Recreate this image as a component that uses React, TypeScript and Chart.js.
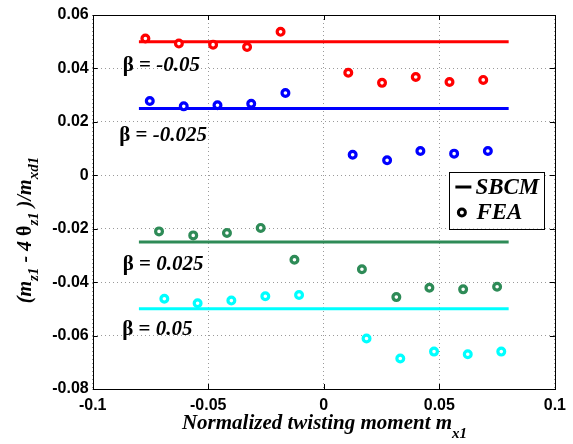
import { useEffect, useRef } from "react";
import { Chart, registerables } from "chart.js";
Chart.register(...registerables);

const xTickValues = [-0.1, -0.05, 0, 0.05, 0.1];
const xTickLabels = ["-0.1", "-0.05", "0", "0.05", "0.1"];
const yTickValues = [-0.08, -0.06, -0.04, -0.02, 0, 0.02, 0.04, 0.06];
const yTickLabels = ["-0.08", "-0.06", "-0.04", "-0.02", "0", "0.02", "0.04", "0.06"];

const betaLabels = ["-0.05", "-0.025", "0.025", "0.05"];
const seriesColors = ["#ff0000", "#0000ff", "#2e8b57", "#00ffff"];

const sbcmX = [-0.08, 0.08];
const sbcmLevels = [0.05, 0.025, -0.025, -0.05];

const feaXBetaM005 = [-0.0772, -0.0627, -0.0479, -0.0332, -0.0187, 0.0106, 0.0252, 0.0398, 0.0544, 0.069];
const feaYBetaM005 = [0.0512, 0.0493, 0.0489, 0.048, 0.0537, 0.0384, 0.0346, 0.0368, 0.0349, 0.0357];
const feaXBetaM0025 = [-0.0753, -0.0606, -0.046, -0.0314, -0.0166, 0.0125, 0.0274, 0.0418, 0.0564, 0.071];
const feaYBetaM0025 = [0.0278, 0.0258, 0.0262, 0.0268, 0.0308, 0.0077, 0.0056, 0.0091, 0.0081, 0.0091];
const feaXBetaP0025 = [-0.0713, -0.0565, -0.0419, -0.0273, -0.0127, 0.0165, 0.0314, 0.0457, 0.0603, 0.075];
const feaYBetaP0025 = [-0.021, -0.0225, -0.0216, -0.0197, -0.0316, -0.0352, -0.0456, -0.0421, -0.0427, -0.0417];
const feaXBetaP005 = [-0.069, -0.0546, -0.04, -0.0253, -0.0107, 0.0185, 0.0331, 0.0477, 0.0623, 0.0768];
const feaYBetaP005 = [-0.0462, -0.0479, -0.0469, -0.0453, -0.0448, -0.0611, -0.0686, -0.066, -0.067, -0.066];

const feaX = [feaXBetaM005, feaXBetaM0025, feaXBetaP0025, feaXBetaP005];
const feaY = [feaYBetaM005, feaYBetaM0025, feaYBetaP0025, feaYBetaP005];

// annotation anchors (data coords: left edge, baseline)
const betaLabelX = [-0.087, -0.0885, -0.087, -0.0872];
const betaLabelY = [0.039, 0.0128, -0.0353, -0.0599];

const SERIF = "'Liberation Serif', 'DejaVu Serif', serif";
const SANS = "'Liberation Sans', Arial, sans-serif";

type Run = { t: string; font: string; dy?: number };

function runsWidth(ctx: CanvasRenderingContext2D, runs: Run[]) {
  let w = 0;
  for (const r of runs) {
    ctx.font = r.font;
    w += ctx.measureText(r.t).width;
  }
  return w;
}
function drawRuns(ctx: CanvasRenderingContext2D, runs: Run[], x: number, y: number) {
  let cx = x;
  ctx.textBaseline = "alphabetic";
  ctx.textAlign = "left";
  for (const r of runs) {
    ctx.font = r.font;
    ctx.fillText(r.t, cx, y + (r.dy || 0));
    cx += ctx.measureText(r.t).width;
  }
}

const decorPlugin = {
  id: "decor",
  afterDraw(chart: any) {
    const ctx: CanvasRenderingContext2D = chart.ctx;
    const { left, right, top, bottom } = chart.chartArea;
    const xs = chart.scales.x;
    const ys = chart.scales.y;
    ctx.save();
    // box
    ctx.strokeStyle = "#000";
    ctx.lineWidth = 1;
    ctx.strokeRect(Math.round(left) + 0.5, Math.round(top) + 0.5, Math.round(right - left), Math.round(bottom - top));
    // inward ticks
    const tl = 5;
    ctx.beginPath();
    for (const v of xTickValues) {
      const px = Math.round(xs.getPixelForValue(v)) + 0.5;
      ctx.moveTo(px, bottom);
      ctx.lineTo(px, bottom - tl);
      ctx.moveTo(px, top);
      ctx.lineTo(px, top + tl);
    }
    for (const v of yTickValues) {
      const py = Math.round(ys.getPixelForValue(v)) + 0.5;
      ctx.moveTo(left, py);
      ctx.lineTo(left + tl, py);
      ctx.moveTo(right, py);
      ctx.lineTo(right - tl, py);
    }
    ctx.stroke();

    // beta annotations
    ctx.fillStyle = "#000";
    for (let i = 0; i < betaLabels.length; i++) {
      const px = xs.getPixelForValue(betaLabelX[i]);
      const py = ys.getPixelForValue(betaLabelY[i]);
      drawRuns(ctx, [
        { t: "β = ", font: `bold 21px ${SERIF}` },
        { t: betaLabels[i], font: `italic bold 21px ${SERIF}` },
      ], px, py);
    }

    // legend
    const bx0 = right - 105.5, bx1 = right - 11, by0 = top + 157, by1 = top + 213.5;
    ctx.fillStyle = "#fff";
    ctx.fillRect(bx0, by0, bx1 - bx0, by1 - by0);
    ctx.strokeStyle = "#000";
    ctx.lineWidth = 1;
    ctx.strokeRect(Math.round(bx0) + 0.5, Math.round(by0) + 0.5, Math.round(bx1 - bx0), Math.round(by1 - by0));
    ctx.lineWidth = 3;
    ctx.beginPath();
    ctx.moveTo(bx0 + 6, by0 + 15);
    ctx.lineTo(bx0 + 22, by0 + 15);
    ctx.stroke();
    ctx.lineWidth = 3;
    ctx.beginPath();
    ctx.arc(bx0 + 12.5, by0 + 40.5, 3.5, 0, Math.PI * 2);
    ctx.stroke();
    ctx.fillStyle = "#000";
    ctx.font = `italic bold 23px ${SERIF}`;
    ctx.textBaseline = "alphabetic";
    ctx.fillText("SBCM", bx0 + 26, by0 + 22);
    ctx.fillText("FEA", bx0 + 27, by0 + 46.5);

    // x title
    const xr: Run[] = [
      { t: "Normalized twisting moment m", font: `italic bold 21px ${SERIF}` },
      { t: "x1", font: `italic bold 15px ${SERIF}`, dy: 9 },
    ];
    const xw = runsWidth(ctx, xr);
    drawRuns(ctx, xr, 324.5 - xw / 2, 428.5);

    // y title
    const yr: Run[] = [
      { t: "(m", font: `italic bold 20px ${SERIF}` },
      { t: "z1", font: `italic bold 15px ${SERIF}`, dy: 7 },
      { t: " - 4 ", font: `italic bold 20px ${SERIF}` },
      { t: "θ", font: `bold 20px ${SERIF}` },
      { t: "z1", font: `italic bold 15px ${SERIF}`, dy: 7 },
      { t: " )/m", font: `italic bold 20px ${SERIF}` },
      { t: "xd1", font: `italic bold 15px ${SERIF}`, dy: 7 },
    ];
    const yw = runsWidth(ctx, yr);
    ctx.translate(31, 230);
    ctx.rotate(-Math.PI / 2);
    drawRuns(ctx, yr, -yw / 2, 0);
    ctx.restore();
  },
};

export default function App() {
  const ref = useRef<HTMLCanvasElement | null>(null);
  useEffect(() => {
    if (!ref.current) return;
    const datasets: any[] = [];
    sbcmLevels.forEach((lv, i) => {
      datasets.push({
        type: "line",
        label: "SBCM " + betaLabels[i],
        data: sbcmX.map((x) => ({ x, y: lv })),
        borderColor: seriesColors[i],
        borderWidth: 3,
        pointRadius: 0,
        fill: false,
        order: 2,
      });
    });
    feaX.forEach((xsArr, i) => {
      datasets.push({
        type: "scatter",
        label: "FEA " + betaLabels[i],
        data: xsArr.map((x, j) => ({ x, y: feaY[i][j] })),
        borderColor: seriesColors[i],
        backgroundColor: "#fff",
        borderWidth: 3.2,
        pointRadius: 3.4,
        showLine: false,
        order: 1,
      });
    });
    const chart = new Chart(ref.current, {
      type: "scatter",
      data: { datasets },
      options: {
        animation: false,
        responsive: false,
        layout: { padding: { left: 0, top: 15, right: 15, bottom: 0 } },
        plugins: { legend: { display: false }, tooltip: { enabled: false } },
        scales: {
          x: {
            type: "linear",
            min: -0.1,
            max: 0.1,
            afterBuildTicks: (s: any) => {
              s.ticks = xTickValues.map((v) => ({ value: v }));
            },
            afterFit: (s: any) => {
              s.height = 55;
            },
            ticks: {
              color: "#000",
              font: { family: SANS, size: 16, weight: "bold" },
              padding: 7,
              maxRotation: 0,
              callback: (v: any) => {
                const k = xTickValues.findIndex((t) => Math.abs(t - Number(v)) < 1e-9);
                return k >= 0 ? xTickLabels[k] : "";
              },
            },
            grid: { color: "#9a9a9a", lineWidth: 1, drawTicks: false },
            border: { display: false, dash: [1, 3] },
          },
          y: {
            type: "linear",
            min: -0.08,
            max: 0.06,
            afterBuildTicks: (s: any) => {
              s.ticks = yTickValues.map((v) => ({ value: v }));
            },
            afterFit: (s: any) => {
              s.width = 92.7;
            },
            ticks: {
              color: "#000",
              font: { family: SANS, size: 16, weight: "bold" },
              padding: 4,
              callback: (v: any) => {
                const k = yTickValues.findIndex((t) => Math.abs(t - Number(v)) < 1e-9);
                return k >= 0 ? yTickLabels[k] : "";
              },
            },
            grid: { color: "#9a9a9a", lineWidth: 1, drawTicks: false },
            border: { display: false, dash: [1, 3] },
          },
        },
      } as any,
      plugins: [decorPlugin],
    });
    return () => chart.destroy();
  }, []);
  return (
    <div style={{ position: "absolute", left: 0, top: 0, width: 573, height: 444, background: "#fff" }}>
      <canvas ref={ref} width={573} height={444} style={{ display: "block" }} />
    </div>
  );
}
